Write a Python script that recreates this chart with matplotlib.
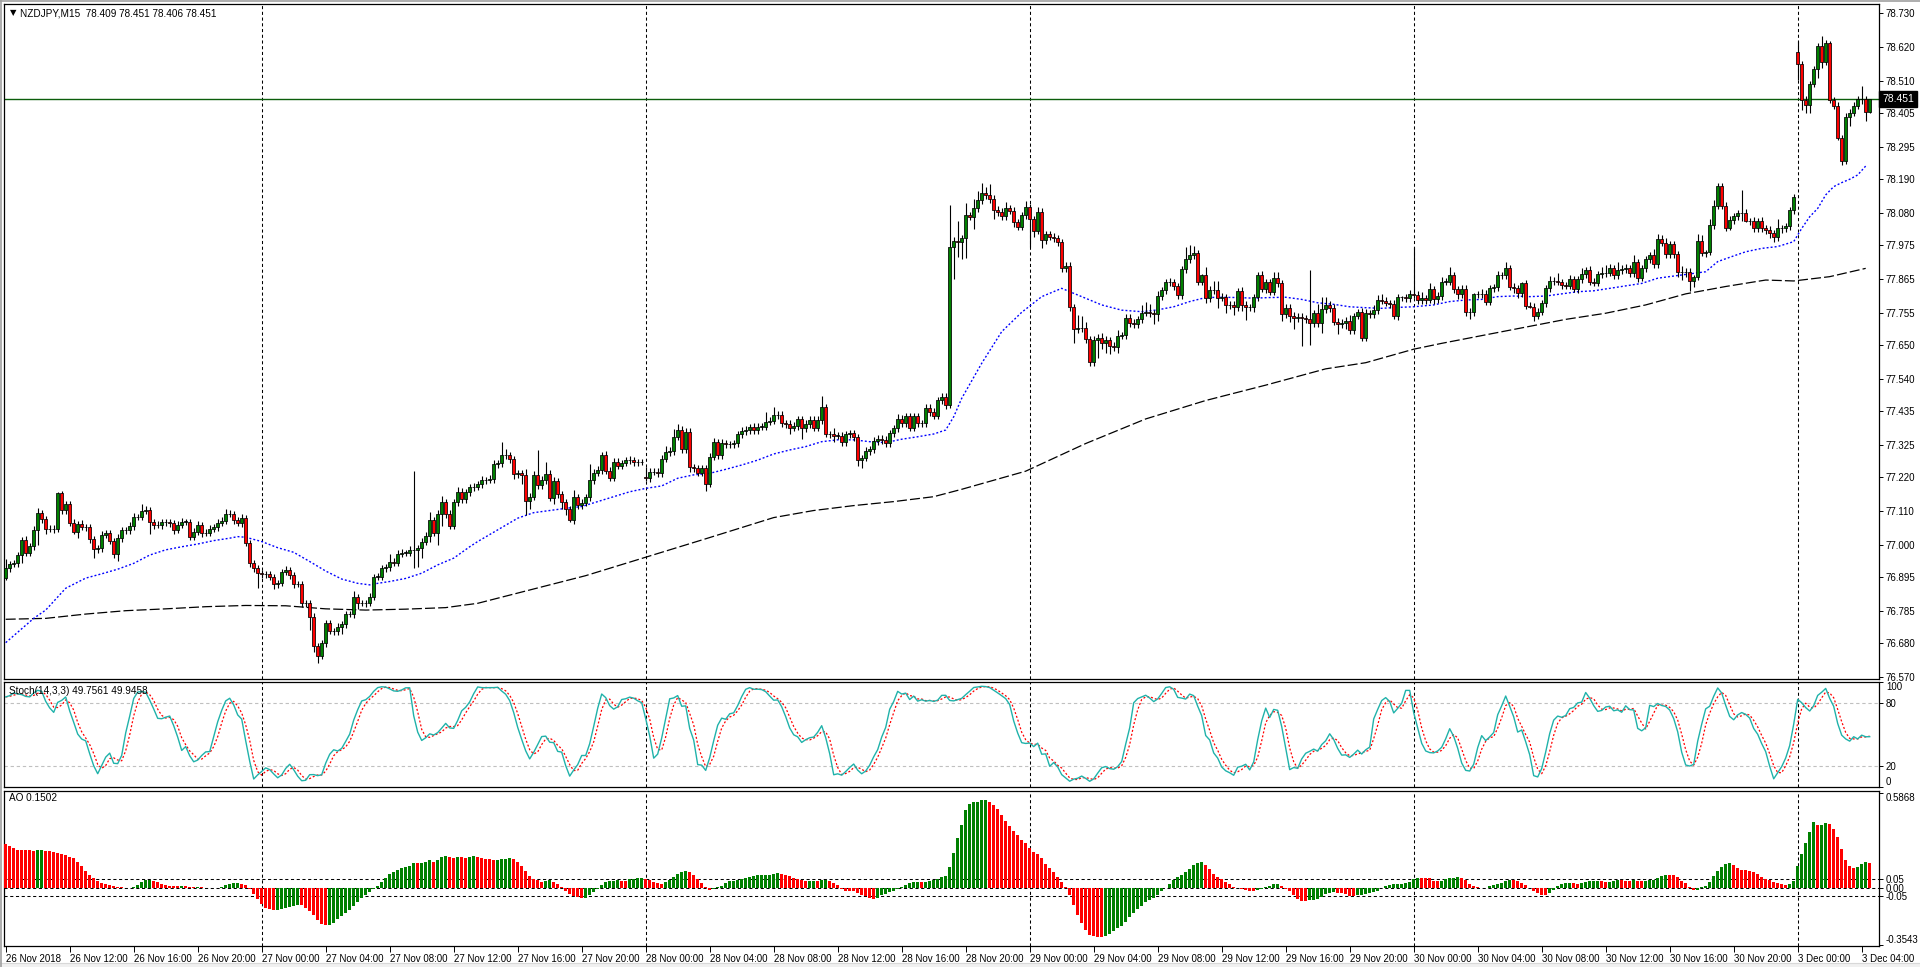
import numpy as np
import pandas as pd
import matplotlib
matplotlib.use("Agg")
import matplotlib.pyplot as plt
from matplotlib.patches import Rectangle
from matplotlib.collections import PatchCollection
from matplotlib.transforms import blended_transform_factory
from matplotlib.lines import Line2D

plt.rcParams['font.family'] = ['Liberation Sans', 'DejaVu Sans']
plt.rcParams['font.size'] = 7

# ---------------- DATA (NZDJPY M15) ----------------
# bar index of the first bar of each trading day (bar 0 = 26 Nov 08:00)
day_start = [0, 64, 160, 256, 352, 448]

close_26nov = [
    76.924, 76.937, 76.940, 76.967, 77.016, 76.975, 76.997, 77.048,
    77.103, 77.083, 77.051, 77.053, 77.051, 77.168, 77.114, 77.132,
    77.070, 77.043, 77.068, 77.057, 77.057, 77.018, 76.986, 76.989,
    77.032, 77.038, 77.014, 76.969, 77.022, 77.047, 77.047, 77.062,
    77.092, 77.092, 77.111, 77.114, 77.076, 77.065, 77.065, 77.074,
    77.073, 77.071, 77.049, 77.065, 77.076, 77.076, 77.027, 77.043,
    77.065, 77.038, 77.040, 77.053, 77.057, 77.071, 77.079, 77.100,
    77.101, 77.081, 77.071, 77.089, 77.007, 76.942, 76.924, 76.908]
close_27nov = [
    76.906, 76.906, 76.895, 76.872, 76.875, 76.913, 76.919, 76.902,
    76.872, 76.872, 76.810, 76.810, 76.767, 76.671, 76.640, 76.680,
    76.745, 76.720, 76.720, 76.734, 76.743, 76.774, 76.774, 76.830,
    76.810, 76.810, 76.812, 76.832, 76.897, 76.897, 76.924, 76.927,
    76.946, 76.942, 76.970, 76.975, 76.975, 76.984, 76.984, 76.989,
    77.011, 77.030, 77.081, 77.040, 77.100, 77.139, 77.101, 77.063,
    77.139, 77.173, 77.150, 77.171, 77.187, 77.190, 77.197, 77.211,
    77.211, 77.214, 77.263, 77.266, 77.293, 77.293, 77.279, 77.231,
    77.233, 77.228, 77.143, 77.157, 77.228, 77.195, 77.211, 77.231,
    77.154, 77.208, 77.165, 77.141, 77.116, 77.081, 77.155, 77.130,
    77.138, 77.155, 77.211, 77.235, 77.244, 77.293, 77.242, 77.219,
    77.271, 77.258, 77.268, 77.276, 77.276, 77.269, 77.271, 77.271]
close_28nov = [
    77.217, 77.238, 77.238, 77.233, 77.279, 77.303, 77.306, 77.352,
    77.374, 77.312, 77.367, 77.252, 77.249, 77.235, 77.249, 77.197,
    77.287, 77.334, 77.293, 77.331, 77.327, 77.327, 77.331, 77.360,
    77.371, 77.374, 77.385, 77.374, 77.385, 77.385, 77.401, 77.404,
    77.423, 77.423, 77.396, 77.394, 77.382, 77.387, 77.409, 77.380,
    77.393, 77.407, 77.382, 77.407, 77.448, 77.360, 77.360, 77.356,
    77.356, 77.334, 77.360, 77.363, 77.350, 77.276, 77.282, 77.306,
    77.311, 77.338, 77.345, 77.342, 77.331, 77.363, 77.379, 77.410,
    77.396, 77.418, 77.382, 77.418, 77.396, 77.396, 77.445, 77.432,
    77.421, 77.472, 77.482, 77.455, 77.971, 77.989, 77.987, 77.998,
    78.074, 78.068, 78.095, 78.122, 78.144, 78.139, 78.125, 78.090,
    78.084, 78.070, 78.095, 78.088, 78.050, 78.036, 78.074, 78.099]
close_29nov = [
    78.060, 78.023, 78.085, 77.992, 78.011, 78.003, 77.998, 77.987,
    77.900, 77.909, 77.773, 77.702, 77.705, 77.705, 77.669, 77.596,
    77.667, 77.675, 77.658, 77.667, 77.647, 77.645, 77.681, 77.683,
    77.740, 77.723, 77.718, 77.734, 77.756, 77.759, 77.754, 77.750,
    77.810, 77.830, 77.855, 77.857, 77.843, 77.813, 77.898, 77.929,
    77.944, 77.949, 77.857, 77.878, 77.803, 77.830, 77.830, 77.805,
    77.808, 77.781, 77.781, 77.773, 77.826, 77.781, 77.773, 77.773,
    77.806, 77.878, 77.832, 77.855, 77.824, 77.868, 77.851, 77.750,
    77.770, 77.746, 77.737, 77.743, 77.737, 77.734, 77.721, 77.754,
    77.721, 77.767, 77.781, 77.770, 77.727, 77.718, 77.723, 77.729,
    77.700, 77.746, 77.759, 77.675, 77.754, 77.750, 77.765, 77.797,
    77.795, 77.786, 77.784, 77.745, 77.806, 77.806, 77.803, 77.817]
close_30nov = [
    77.813, 77.797, 77.802, 77.797, 77.832, 77.800, 77.810, 77.857,
    77.857, 77.878, 77.832, 77.816, 77.833, 77.759, 77.759, 77.816,
    77.817, 77.817, 77.792, 77.835, 77.838, 77.878, 77.878, 77.900,
    77.840, 77.835, 77.819, 77.851, 77.778, 77.775, 77.745, 77.759,
    77.786, 77.835, 77.859, 77.859, 77.857, 77.846, 77.844, 77.864,
    77.832, 77.864, 77.881, 77.895, 77.857, 77.853, 77.881, 77.884,
    77.886, 77.900, 77.878, 77.895, 77.897, 77.900, 77.884, 77.920,
    77.870, 77.900, 77.929, 77.943, 77.913, 77.994, 77.984, 77.946,
    77.978, 77.946, 77.887, 77.887, 77.889, 77.860, 77.873, 77.989,
    77.949, 77.954, 78.041, 78.103, 78.169, 78.104, 78.030, 78.057,
    78.070, 78.079, 78.081, 78.055, 78.054, 78.030, 78.054, 78.030,
    78.025, 78.014, 78.001, 78.030, 78.030, 78.038, 78.090, 78.133]
close_3dec = [
    78.564, 78.448, 78.432, 78.500, 78.548, 78.624, 78.573, 78.634,
    78.448, 78.428, 78.323, 78.250, 78.394, 78.407, 78.428, 78.450,
    78.452, 78.409, 78.451]

# upper / lower wick lengths in points (0.001 JPY)
up_26nov = [
    31, 10, 12, 10, 11, 12, 10, 12, 16, 12, 10, 12, 12, 5, 7, 12,
    10, 13, 10, 12, 12, 10, 10, 12, 12, 12, 10, 10, 12, 12, 10, 12,
    12, 10, 21, 12, 10, 10, 12, 12, 12, 10, 10, 12, 12, 10, 10, 12,
    12, 10, 12, 12, 10, 12, 12, 16, 12, 10, 10, 12, 10, 8, 8, 10]
lo_26nov = [
    5, 12, 10, 12, 27, 12, 10, 12, 48, 12, 15, 10, 12, 10, 12, 12,
    10, 8, 20, 10, 12, 12, 28, 12, 12, 10, 12, 10, 20, 12, 10, 12,
    12, 10, 12, 10, 41, 12, 10, 12, 10, 12, 12, 10, 10, 12, 10, 12,
    10, 12, 10, 12, 10, 12, 10, 12, 10, 12, 10, 12, 12, 15, 12, 48]
up_27nov = [
    12, 10, 10, 12, 12, 10, 12, 10, 10, 12, 10, 12, 10, 10, 10, 12,
    10, 12, 10, 12, 10, 10, 12, 20, 10, 12, 10, 12, 10, 12, 12, 10,
    25, 12, 15, 12, 10, 12, 257, 10, 12, 12, 25, 10, 15, 20, 10, 12,
    12, 15, 12, 12, 10, 12, 12, 12, 10, 12, 12, 10, 41, 20, 10, 12,
    12, 10, 20, 12, 12, 81, 12, 40, 12, 12, 10, 12, 10, 12, 25, 12,
    12, 10, 52, 12, 12, 10, 12, 12, 12, 12, 10, 10, 12, 10, 10, 10]
lo_27nov = [
    12, 12, 10, 15, 12, 10, 12, 12, 12, 10, 12, 12, 44, 20, 23, 10,
    12, 10, 12, 12, 25, 12, 10, 12, 20, 10, 12, 12, 12, 10, 12, 12,
    12, 10, 12, 10, 12, 12, 60, 55, 30, 12, 20, 12, 40, 40, 12, 12,
    10, 12, 12, 12, 12, 10, 12, 12, 12, 10, 12, 12, 12, 12, 12, 15,
    12, 30, 45, 25, 12, 12, 12, 12, 10, 20, 12, 25, 20, 5, 12, 12,
    12, 12, 12, 12, 12, 12, 12, 12, 10, 12, 12, 12, 12, 12, 12, 12]
up_28nov = [
    30, 12, 12, 12, 15, 20, 12, 25, 20, 12, 12, 12, 12, 12, 12, 10,
    12, 15, 12, 15, 12, 12, 12, 10, 12, 12, 10, 12, 12, 12, 30, 12,
    25, 12, 12, 12, 12, 12, 10, 12, 12, 12, 12, 12, 37, 12, 12, 20,
    12, 12, 12, 12, 12, 12, 12, 12, 10, 12, 12, 12, 12, 12, 12, 15,
    12, 12, 12, 10, 12, 12, 15, 12, 12, 10, 12, 12, 135, 12, 65, 12,
    40, 10, 30, 30, 33, 20, 35, 15, 12, 12, 20, 12, 12, 10, 10, 20]
lo_28nov = [
    10, 12, 12, 12, 12, 10, 12, 12, 12, 12, 12, 15, 12, 12, 12, 20,
    10, 12, 12, 12, 12, 12, 10, 12, 12, 12, 12, 12, 12, 12, 12, 12,
    12, 12, 12, 12, 20, 12, 12, 35, 12, 12, 12, 12, 12, 10, 12, 20,
    12, 12, 12, 12, 12, 20, 25, 10, 12, 12, 12, 12, 12, 12, 12, 12,
    12, 12, 12, 12, 12, 12, 12, 12, 12, 12, 12, 12, 10, 107, 49, 55,
    65, 12, 40, 12, 12, 12, 12, 30, 12, 12, 12, 12, 15, 12, 12, 12]
up_29nov = [
    12, 10, 15, 12, 12, 12, 12, 12, 10, 12, 12, 12, 43, 40, 20, 12,
    12, 10, 15, 12, 10, 12, 20, 10, 10, 12, 12, 10, 25, 30, 25, 12,
    15, 10, 10, 12, 10, 10, 10, 42, 33, 24, 10, 5, 28, 12, 30, 30,
    12, 10, 12, 12, 10, 12, 12, 12, 12, 10, 12, 12, 10, 20, 20, 12,
    15, 15, 12, 12, 12, 12, 160, 12, 30, 40, 25, 12, 15, 12, 12, 12,
    20, 10, 10, 12, 15, 12, 15, 15, 20, 12, 12, 12, 10, 5, 12, 12]
lo_29nov = [
    90, 20, 12, 25, 12, 12, 12, 15, 12, 12, 12, 46, 12, 12, 12, 15,
    15, 60, 20, 35, 25, 15, 20, 12, 12, 15, 12, 12, 12, 12, 12, 30,
    20, 12, 12, 12, 12, 12, 12, 12, 12, 12, 12, 12, 15, 12, 12, 35,
    12, 25, 12, 25, 12, 20, 40, 12, 15, 12, 10, 12, 12, 12, 12, 20,
    10, 20, 35, 12, 89, 12, 70, 12, 12, 30, 12, 12, 10, 30, 12, 20,
    15, 12, 12, 10, 12, 12, 10, 12, 12, 10, 12, 10, 12, 12, 12, 12]
up_30nov = [
    152, 12, 20, 12, 20, 12, 12, 15, 12, 25, 10, 12, 12, 12, 12, 5,
    10, 15, 12, 10, 12, 12, 10, 20, 10, 12, 12, 5, 12, 12, 12, 12,
    10, 10, 15, 12, 25, 10, 10, 15, 12, 10, 20, 10, 12, 12, 10, 20,
    25, 15, 12, 25, 15, 15, 10, 25, 12, 10, 10, 10, 20, 17, 15, 15,
    10, 10, 12, 20, 12, 12, 5, 22, 20, 5, 20, 20, 10, 10, 12, 12,
    10, 10, 74, 12, 10, 12, 10, 12, 10, 12, 10, 30, 12, 10, 10, 10]
lo_30nov = [
    10, 12, 12, 12, 10, 15, 12, 12, 12, 12, 12, 15, 12, 15, 25, 15,
    12, 12, 10, 12, 12, 12, 12, 12, 12, 15, 15, 12, 10, 5, 15, 10,
    12, 12, 12, 12, 12, 12, 12, 12, 10, 12, 12, 12, 10, 10, 12, 12,
    12, 12, 12, 12, 12, 12, 12, 12, 15, 12, 12, 12, 12, 12, 12, 12,
    12, 12, 15, 25, 15, 33, 20, 12, 10, 12, 12, 12, 10, 10, 10, 5,
    12, 12, 25, 5, 12, 12, 12, 12, 12, 15, 15, 12, 15, 12, 12, 12]
up_3dec = [38, 12, 12, 10, 12, 10, 32, 10, 5, 10, 12, 12, 12, 12, 12, 10,
           40, 10, 0]
lo_3dec = [50, 33, 25, 25, 10, 30, 20, 10, 10, 10, 5, 14, 10, 30, 10, 10,
           15, 28, 3]

first_open = 76.891
gap_bars = [160, 448]          # bars whose open differs from previous close
gap_opens = [77.222, 78.603]

# indicator values for the first bars (history before the window)
ao_first_bars = [
    0.270, 0.258, 0.247, 0.233, 0.232, 0.231, 0.230, 0.229,
    0.233, 0.234, 0.227, 0.225, 0.222, 0.216, 0.208, 0.200,
    0.191, 0.181, 0.160, 0.134, 0.104, 0.078, 0.057, 0.042,
    0.030, 0.020, 0.014, 0.009, 0.005, 0.001, -0.002, -0.006,
    0.005, 0.018]
stoch_first_bars = [85.8, 87.0, 89.6, 88.6, 88.0, 86.3, 85.8, 89.6,
                    92.1, 91.1, 81.6, 75.3, 71.1, 80.6, 82.5, 85.8]

# moving averages (bar index, value)
ma_fast_bars = [0, 7, 10, 15, 20, 24, 28, 32, 36, 40, 44, 48, 52, 56, 58, 60,
                64, 68, 72, 76, 80, 84, 88, 91, 93, 96, 100, 104, 108, 112,
                116, 118, 128, 132, 140, 144, 148, 152, 156, 160, 164, 168,
                172, 176, 180, 184, 188, 192, 196, 200, 204, 208, 212, 216,
                220, 224, 228, 232, 235, 237, 239, 244, 249, 254, 259, 264,
                269, 274, 279, 284, 288, 292, 296, 300, 304, 308, 312, 316,
                320, 324, 328, 332, 336, 340, 344, 348, 352, 357, 361, 365,
                369, 373, 377, 381, 385, 389, 393, 397, 401, 405, 409, 413,
                417, 421, 425, 428, 431, 435, 439, 443, 447, 449, 451, 453,
                455, 457, 459, 461, 463, 465]
ma_fast_vals = [76.682, 76.761, 76.788, 76.859, 76.892, 76.906, 76.921, 76.940,
                76.967, 76.984, 76.994, 77.003, 77.014, 77.022, 77.027, 77.025,
                77.011, 76.991, 76.976, 76.946, 76.915, 76.889, 76.875, 76.870,
                76.875, 76.881, 76.891, 76.908, 76.935, 76.957, 76.994, 77.011,
                77.087, 77.105, 77.119, 77.125, 77.141, 77.157, 77.173, 77.184,
                77.192, 77.217, 77.228, 77.233, 77.246, 77.260, 77.276, 77.296,
                77.309, 77.320, 77.336, 77.342, 77.342, 77.336, 77.333, 77.344,
                77.352, 77.361, 77.374, 77.417, 77.477, 77.591, 77.694, 77.757,
                77.808, 77.835, 77.808, 77.781, 77.764, 77.759, 77.765, 77.775,
                77.792, 77.805, 77.806, 77.805, 77.803, 77.805, 77.806, 77.799,
                77.788, 77.783, 77.775, 77.772, 77.770, 77.773, 77.775, 77.781,
                77.792, 77.797, 77.799, 77.808, 77.810, 77.808, 77.810, 77.817,
                77.824, 77.827, 77.835, 77.843, 77.851, 77.868, 77.875, 77.882,
                77.889, 77.922, 77.936, 77.954, 77.965, 77.971, 77.987, 78.030,
                78.068, 78.095, 78.139, 78.166, 78.179, 78.190, 78.204, 78.233]
ma_slow_bars = [0, 10, 20, 30, 40, 50, 60, 70, 80, 90, 100, 110, 118, 130, 145,
                160, 175, 192, 202, 212, 222, 232, 239, 255, 270, 285, 300,
                315, 330, 340, 352, 359, 390, 400, 410, 420, 430, 440, 447,
                456, 465]
ma_slow_vals = [76.758, 76.761, 76.775, 76.786, 76.792, 76.799, 76.803, 76.802,
                76.792, 76.788, 76.791, 76.796, 76.810, 76.850, 76.900, 76.960,
                77.020, 77.089, 77.112, 77.128, 77.141, 77.157, 77.181, 77.240,
                77.330, 77.410, 77.470, 77.520, 77.573, 77.593, 77.637, 77.656,
                77.734, 77.754, 77.781, 77.817, 77.841, 77.862, 77.859, 77.873,
                77.900]

tick_bars = [0, 16, 32, 48, 64, 80, 96, 112, 128, 144, 160, 176, 192, 208, 224,
             240, 256, 272, 288, 304, 320, 336, 352, 368, 384, 400, 416, 432,
             448, 464]
tick_labels = ["26 Nov 2018", "26 Nov 12:00", "26 Nov 16:00", "26 Nov 20:00",
               "27 Nov 00:00", "27 Nov 04:00", "27 Nov 08:00", "27 Nov 12:00",
               "27 Nov 16:00", "27 Nov 20:00", "28 Nov 00:00", "28 Nov 04:00",
               "28 Nov 08:00", "28 Nov 12:00", "28 Nov 16:00", "28 Nov 20:00",
               "29 Nov 00:00", "29 Nov 04:00", "29 Nov 08:00", "29 Nov 12:00",
               "29 Nov 16:00", "29 Nov 20:00", "30 Nov 00:00", "30 Nov 04:00",
               "30 Nov 08:00", "30 Nov 12:00", "30 Nov 16:00", "30 Nov 20:00",
               "3 Dec 00:00", "3 Dec 04:00"]
price_ticks = [78.730, 78.620, 78.510, 78.405, 78.295, 78.190, 78.080, 77.975,
               77.865, 77.755, 77.650, 77.540, 77.435, 77.325, 77.220, 77.110,
               77.000, 76.895, 76.785, 76.680, 76.570]
last_price = 78.451
title_text = "NZDJPY,M15  78.409 78.451 78.406 78.451"
stoch_text = "Stoch(14,3,3) 49.7561 49.9458"
ao_text = "AO 0.1502"

# ---------------- BUILD OHLC ----------------
closes_by_day = [close_26nov, close_27nov, close_28nov, close_29nov, close_30nov, close_3dec]
ups_by_day = [up_26nov, up_27nov, up_28nov, up_29nov, up_30nov, up_3dec]
los_by_day = [lo_26nov, lo_27nov, lo_28nov, lo_29nov, lo_30nov, lo_3dec]
xs, cl, up, lo = [], [], [], []
for s, c, u, l in zip(day_start, closes_by_day, ups_by_day, los_by_day):
    n = min(len(c), len(u), len(l))
    xs += [s + j for j in range(n)]
    cl += c[:n]; up += u[:n]; lo += l[:n]
xs = np.array(xs, float); cl = np.array(cl); up = np.array(up) / 1000.0; lo = np.array(lo) / 1000.0
op = np.concatenate([[first_open], cl[:-1]])
for b, v in zip(gap_bars, gap_opens):
    k = np.where(xs == b)[0]
    if len(k):
        op[k[0]] = v
hi = np.maximum(op, cl) + up
lw_ = np.minimum(op, cl) - lo

# indicators: Stochastic(14,3,3) and Awesome Oscillator from the candles;
# the first bars (whose history lies before the window) use values
s_h, s_l, s_c = pd.Series(hi), pd.Series(lw_), pd.Series(cl)
hh = s_h.rolling(14, min_periods=1).max()
ll = s_l.rolling(14, min_periods=1).min()
k_main = 100 * (s_c - ll).rolling(3, min_periods=1).sum() / (hh - ll).rolling(3, min_periods=1).sum()
k_main.iloc[:len(stoch_first_bars)] = stoch_first_bars
k_sig = k_main.rolling(3, min_periods=1).mean()
med = (s_h + s_l) / 2
ao = (med.rolling(5, min_periods=1).mean() - med.rolling(34, min_periods=1).mean()).values
ao[:len(ao_first_bars)] = ao_first_bars

# ---------------- FIGURE ----------------
W, H = 1920, 967
fig = plt.figure(figsize=(W / 100, H / 100), dpi=100)
fig.patch.set_facecolor('white')

# window frame (grey edge left/top, light band at the bottom)
fig.add_artist(Rectangle((0, 0), 1, 4 / H, transform=fig.transFigure,
                         facecolor='#f0f0f0', edgecolor='none'))
fig.add_artist(Line2D([0, 1], [4.5 / H, 4.5 / H], transform=fig.transFigure,
                      color='#d8d8d8', lw=0.8))
fig.add_artist(Line2D([0.8 / W, 0.8 / W], [0, 1], transform=fig.transFigure,
                      color='#a0a0a0', lw=1.2))
fig.add_artist(Line2D([0, 1], [1 - 0.8 / H, 1 - 0.8 / H], transform=fig.transFigure,
                      color='#a0a0a0', lw=1.2))


def px_axes(x0, y0, x1, y1):
    return fig.add_axes([x0 / W, 1 - y1 / H, (x1 - x0) / W, (y1 - y0) / H])


XL = ((4 - 5.7) / 4, (1879 - 5.7) / 4)
ax = px_axes(4, 4, 1879, 679)
axs = px_axes(4, 682, 1879, 787)
axa = px_axes(4, 791, 1879, 946)

for a in (ax, axs, axa):
    a.set_xlim(*XL)
    a.set_facecolor('white')
    for sp in a.spines.values():
        sp.set_color('black'); sp.set_linewidth(0.9)
    a.yaxis.tick_right()
    a.tick_params(axis='y', direction='out', length=3, width=0.7, pad=2,
                  labelsize=7, colors='black')
    for b in day_start[1:]:
        a.axvline(b, color='black', lw=0.75, dashes=(3, 2.5), zorder=1)

# main candles
ax.set_ylim(76.5637, 78.7603)
ax.vlines(xs, lw_, hi, color='black', lw=0.8, zorder=3)
bw = 0.75
patches, cols = [], []
for x, o, c in zip(xs, op, cl):
    patches.append(Rectangle((x - bw / 2, min(o, c)), bw, max(abs(c - o), 0.0004)))
    cols.append('#008000' if c > o else ('#ff0000' if c < o else 'black'))
pc = PatchCollection(patches, facecolor=cols, edgecolor='black', linewidth=0.55, zorder=4)
ax.add_collection(pc)
ax.plot(ma_slow_bars, ma_slow_vals, color='black', lw=0.9, dashes=(8, 2.5), zorder=2)
ax.plot(ma_fast_bars, ma_fast_vals, color='#0000ff', lw=1.0, dashes=(1.4, 1.5), zorder=2)
ax.axhline(last_price, color='#0b5d0b', lw=1.0, zorder=2)
ax.set_yticks(price_ticks)
ax.set_yticklabels([f"{v:.3f}" for v in price_ticks])
ax.set_xticks([])
trans = blended_transform_factory(ax.transAxes, ax.transData)
ax.text(1.0 + 3 / 1875, last_price, f"{last_price:.3f}", transform=trans, color='white',
        fontsize=7.5, va='center', ha='left', zorder=10,
        bbox=dict(boxstyle='square,pad=0.3', fc='black', ec='black'))

fig.text(10 / W, 1 - 13 / H, "\u25BC", fontsize=6, va='center', ha='left',
         family=['DejaVu Sans'])
fig.text(20 / W, 1 - 13 / H, title_text, fontsize=7.2, va='center', ha='left')

# stochastic
axs.set_ylim(0, 100)
axs.axhline(80, color='#c0c0c0', lw=0.8, dashes=(3, 2.5), zorder=1)
axs.axhline(20, color='#c0c0c0', lw=0.8, dashes=(3, 2.5), zorder=1)
axs.plot(xs, k_main, color='#20b2aa', lw=1.0, zorder=3)
axs.plot(xs, k_sig, color='red', lw=0.9, dashes=(1.6, 1.6), zorder=2)
axs.set_yticks([100, 80, 20, 0])
axs.set_yticklabels(['100', '80', '20', '0'])
lbls = axs.get_yticklabels()
lbls[0].set_va('top'); lbls[3].set_va('bottom')
axs.set_xticks([])
fig.text(9 / W, 1 - 691 / H, stoch_text, fontsize=7.2, va='center', ha='left')

# awesome oscillator
axa.set_ylim(-0.363, 0.599)
ao_cols = ['#ff0000'] + ['#008000' if ao[i] > ao[i - 1] else '#ff0000' for i in range(1, len(ao))]
axa.bar(xs, ao, width=0.7, color=ao_cols, linewidth=0, zorder=3)
for lv in (0.05, 0.0, -0.05):
    axa.axhline(lv, color='black', lw=0.75, dashes=(3, 2.5), zorder=2)
axa.set_yticks([0.5868, 0.05, 0.0, -0.05, -0.3543])
axa.set_yticklabels(['0.5868', '0.05', '0.00', '-0.05', '-0.3543'])
lb = axa.get_yticklabels()
lb[0].set_va('top'); lb[4].set_va('bottom')
axa.set_xticks(tick_bars)
axa.set_xticklabels(tick_labels)
axa.tick_params(axis='x', direction='out', length=4, width=0.7, pad=2, labelsize=7)
for t in axa.get_xticklabels():
    t.set_ha('left')
fig.text(9 / W, 1 - 798 / H, ao_text, fontsize=7.2, va='center', ha='left')

fig.savefig("out.png", dpi=100, facecolor='white')
